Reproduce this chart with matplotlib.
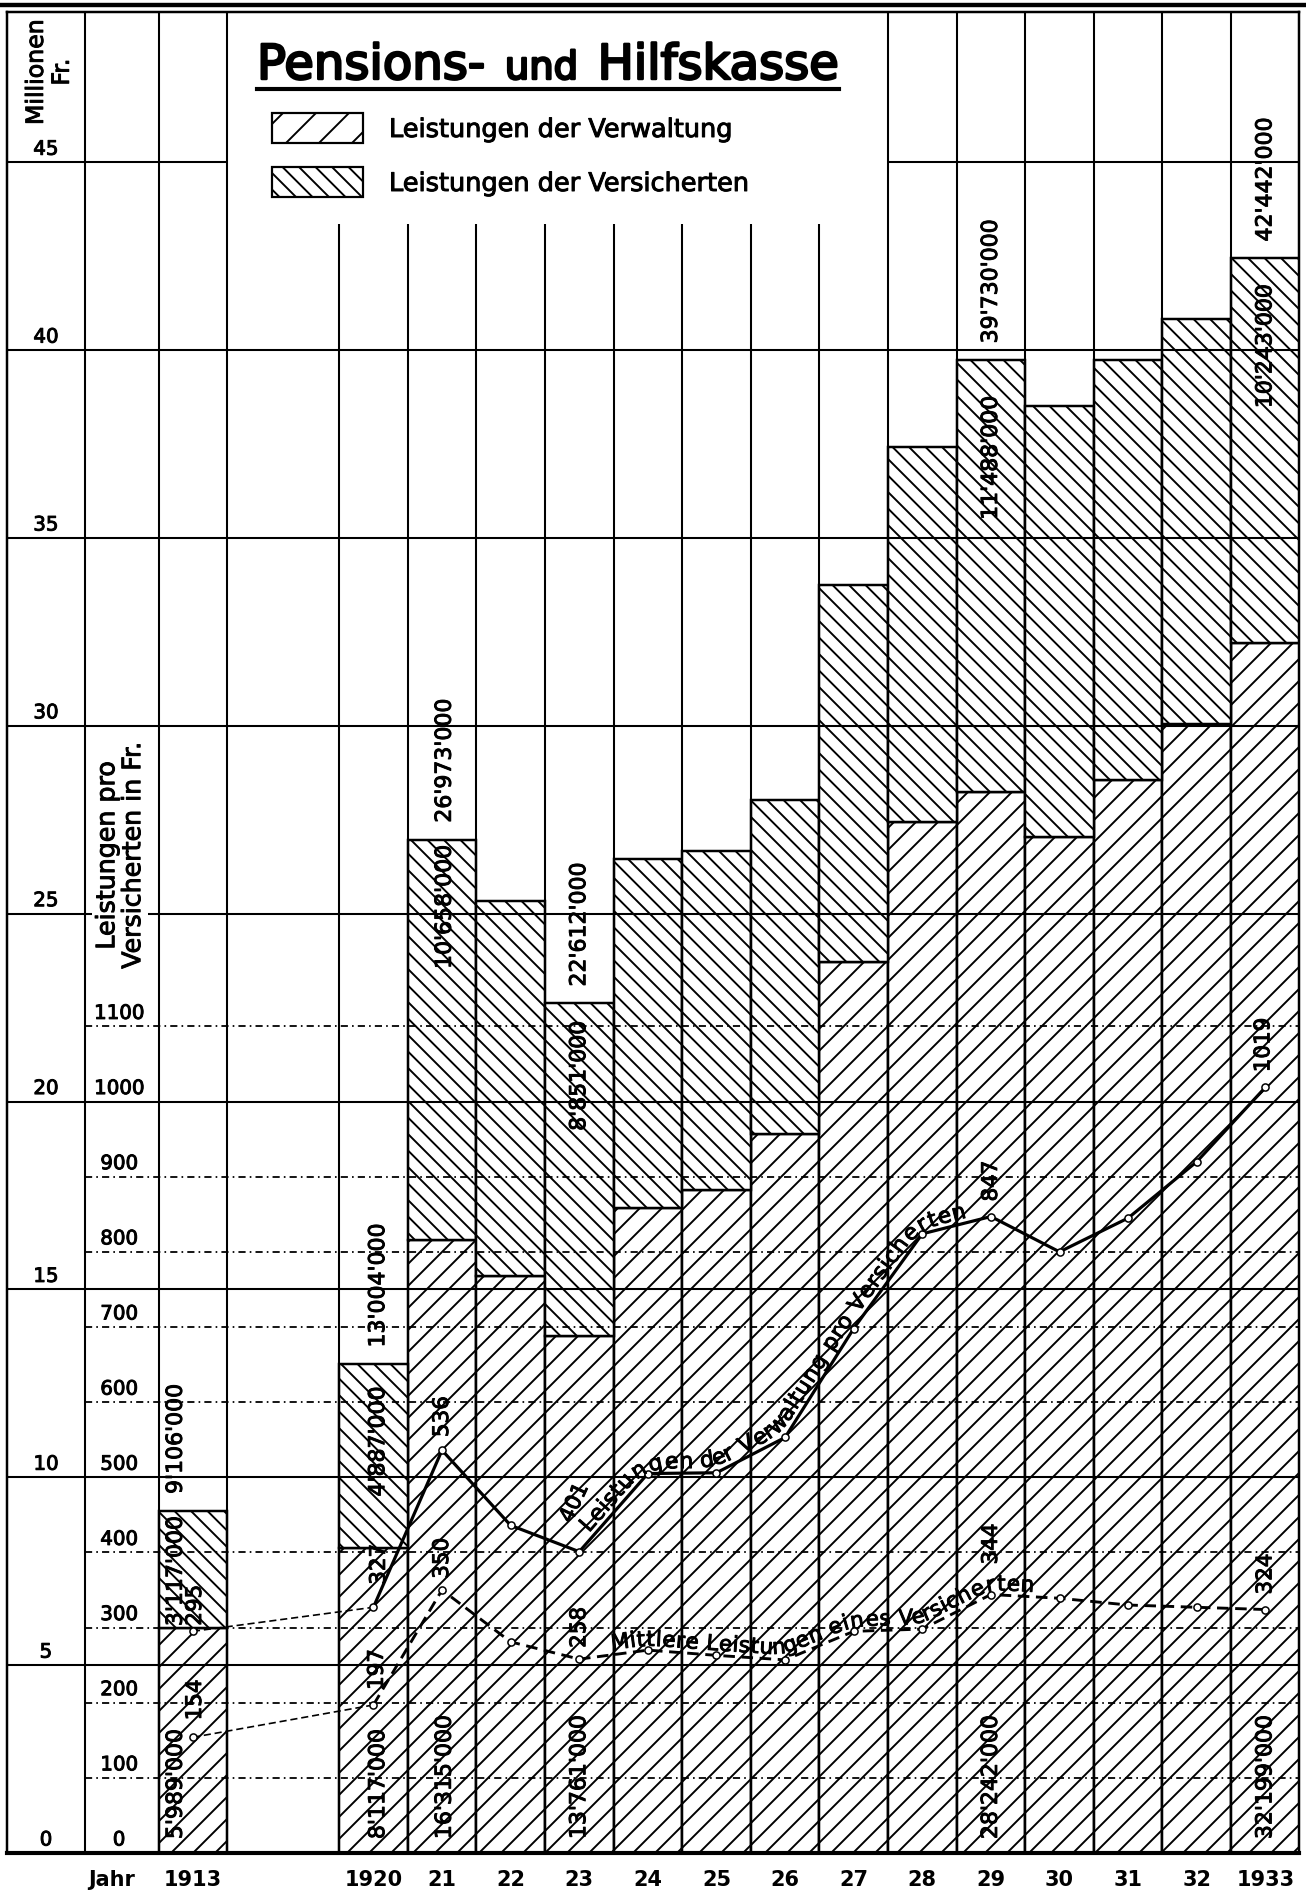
import numpy as np
import matplotlib
matplotlib.use("Agg")
import matplotlib.pyplot as plt
from matplotlib.patches import Rectangle
from matplotlib.font_manager import FontProperties
import matplotlib.patheffects as pe

plt.rcParams["font.family"] = ["DejaVu Sans"]
plt.rcParams["hatch.linewidth"] = 0.7
plt.rcParams["lines.scale_dashes"] = False

# ---------------- data ----------------
years = [1913, 1920, 1921, 1922, 1923, 1924, 1925, 1926, 1927, 1928, 1929, 1930, 1931, 1932, 1933]
year_labels = ["1913", "1920", "21", "22", "23", "24", "25", "26", "27", "28", "29", "30", "31", "32", "1933"]
# Millionen Fr.
verwaltung_mio = [5.989, 8.117, 16.315, 15.35, 13.761, 17.17, 17.65, 19.15, 23.72, 27.45, 28.242, 27.03, 28.55, 30.05, 32.199]
versicherte_mio = [3.117, 4.887, 10.658, 9.98, 8.851, 9.28, 9.03, 8.87, 10.04, 9.98, 11.488, 11.47, 11.18, 10.77, 10.243]
# Fr. pro Versicherten
verw_pro_versicherten = [295, 327, 536, 436, 401, 505, 506, 553, 698, 824, 847, 800, 845, 920, 1019]
mittlere_leistung = [154, 197, 350, 281, 258, 270, 263, 257, 295, 298, 344, 339, 330, 327, 324]
labelled_years = [1913, 1920, 1921, 1923, 1929, 1933]
mio_ticks = list(range(0, 50, 5))
fr_ticks = list(range(0, 1200, 100))
FR_PER_MIO = 50  # right scale: 1000 Fr. <-> 20 Mio. Fr.

title_parts = ["Pensions-", "und", "Hilfskasse"]
legend_labels = ["Leistungen der Verwaltung", "Leistungen der Versicherten"]
curve_labels = ["Leistungen der Verwaltung pro Versicherten", "Mittlere Leistungen eines Versicherten"]


def swiss(v_mio):
    return f"{int(round(v_mio * 1e6)):,}".replace(",", "'")


# ---------------- figure / layout ----------------
W, H, DPI = 1306, 1899, 198
fig = plt.figure(figsize=(W / DPI, H / DPI), dpi=DPI)
fig.patch.set_facecolor("white")

HEAVY = [pe.withStroke(linewidth=0.35, foreground="black")]

X0, X1, Y1 = -2.21, 16.62, 49.0
BOX_TOP = 43.35
ax = fig.add_axes([7 / W, (H - 1853) / H, (1299 - 7) / W, (1853 - 12) / H])
ax.set_xlim(X0, X1)
ax.set_ylim(0, Y1)
ax.set_xticks([])
ax.set_yticks([])
for s in ["left", "right", "top"]:
    ax.spines[s].set_linewidth(0.9)
ax.spines["bottom"].set_linewidth(1.5)


def col_left(y):
    return 0.0 if y == 1913 else 2.63 + (y - 1920)


left = np.array([col_left(y) for y in years])
cx = left + 0.5
verw = np.array(verwaltung_mio)
vers = np.array(versicherte_mio)
total = verw + vers

# bars
ax.bar(left, verw, width=1.0, align="edge", facecolor="white", edgecolor="black",
       linewidth=0.9, hatch="///", zorder=2)
ax.bar(left, vers, bottom=verw, width=1.0, align="edge", facecolor="white",
       edgecolor="black", linewidth=0.9, hatch="\\\\\\\\", zorder=2)

# grid
GRID = dict(colors="black", linewidth=0.75, zorder=3)
for m in mio_ticks[1:]:
    if m > BOX_TOP:
        ax.hlines(m, X0, 1.0, **GRID)
        ax.hlines(m, 10.63, X1, **GRID)
    else:
        ax.hlines(m, X0, X1, **GRID)
ax.vlines([-1.07, 0.0, 1.0], 0, Y1, **GRID)
for l in left[1:]:
    ax.vlines(l, 0, BOX_TOP if l < 10.6 else Y1, **GRID)
for f in fr_ticks[1:]:
    ax.hlines(f / FR_PER_MIO, -1.07, X1, colors="black", linewidth=0.65,
              linestyles=[(0, (2.6, 1.5, 0.6, 1.5))], zorder=3)

# axis labels
NUM = dict(ha="center", va="baseline", fontsize=7.2, zorder=8, path_effects=HEAVY)
for m in mio_ticks:
    ax.text(-1.643, m + 0.2, str(m), **NUM)
for f in fr_ticks:
    ax.text(-0.578, f / FR_PER_MIO + 0.2, str(f), **NUM)
ax.text(-1.6, 47.4, "Millionen\nFr.", rotation=90, ha="center", va="center",
        fontsize=8.6, linespacing=1.1, multialignment="center", zorder=8, path_effects=HEAVY)
ax.text(-0.56, 26.54, "Leistungen pro\nVersicherten in Fr.", rotation=90, ha="center",
        va="center", fontsize=9.2, linespacing=1.1, multialignment="center", zorder=8,
        bbox=dict(facecolor="white", edgecolor="none", pad=1.0), path_effects=HEAVY)
ax.text(-0.68, -0.72, "Jahr", ha="center", va="center", fontsize=7.6,
        fontweight="bold", clip_on=False)
for x, lab in zip(cx, year_labels):
    ax.text(x, -0.72, lab, ha="center", va="center", fontsize=7.6,
            fontweight="bold", clip_on=False)

# bar value labels
LBL = dict(rotation=90, ha="center", fontsize=8.0, zorder=8, path_effects=HEAVY)
xshift = {1913: -0.25, 1920: 0.07, 1921: 0.04}
vers_pos = {1913: ("bottom", 0.05), 1920: ("center", 0.0), 1921: ("top", -0.13),
            1923: ("top", -0.45), 1929: ("top", -0.93), 1933: ("top", -0.67)}
for i, y in enumerate(years):
    if y not in labelled_years:
        continue
    dx = xshift.get(y, 0.0)
    ax.text(cx[i] + dx, total[i] + 0.45, swiss(total[i]), va="bottom", **LBL)
    ax.text(cx[i] + dx, 0.37, swiss(verw[i]), va="bottom", **LBL)
    va, off = vers_pos[y]
    if va == "bottom":
        yy = verw[i] + off
    elif va == "top":
        yy = total[i] + off
    else:
        yy = verw[i] + vers[i] / 2 + 0.4
    ax.text(cx[i] + dx, yy, swiss(vers[i]), va=va, **LBL)

# curves
vp = np.array(verw_pro_versicherten) / FR_PER_MIO
ml = np.array(mittlere_leistung) / FR_PER_MIO
thin = dict(color="black", lw=0.6, ls=(0, (2.6, 1.4)), zorder=5)
ax.plot(cx[:2], vp[:2], **thin)
ax.plot(cx[:2], ml[:2], **thin)
ax.plot(cx[1:], vp[1:], color="black", lw=1.15, ls="-", zorder=5)
ax.plot(cx[1:], ml[1:], color="black", lw=1.05, ls=(0, (4.2, 2.4)), zorder=5)
MK = dict(ls="none", marker="o", ms=2.6, mfc="white", mec="black", mew=0.55, zorder=6)
ax.plot(cx, vp, **MK)
ax.plot(cx, ml, **MK)

# curve value labels
VL = dict(fontsize=7.8, zorder=8, path_effects=HEAVY)
vp_off = {1913: (0.03, 0.15), 1920: (0.08, 0.6), 1921: (0.0, 0.35), 1929: (0.0, 0.4), 1933: (-0.03, 0.4)}
ml_off = {1913: (0.03, 0.45), 1920: (0.05, 0.4), 1921: (0.0, 0.3), 1923: (0.0, 0.3), 1929: (0.0, 0.8), 1933: (0.0, 0.4)}
for i, y in enumerate(years):
    if y in vp_off:
        dx, dy = vp_off[y]
        ax.text(cx[i] + dx, vp[i] + dy, str(verw_pro_versicherten[i]), rotation=90,
                ha="center", va="bottom", **VL)
    if y in ml_off:
        dx, dy = ml_off[y]
        ax.text(cx[i] + dx, ml[i] + dy, str(mittlere_leistung[i]), rotation=90,
                ha="center", va="bottom", **VL)
i23 = years.index(1923)
ax.text(cx[i23] - 0.07, vp[i23] + 1.3, str(verw_pro_versicherten[i23]), rotation=65,
        ha="center", va="center", **VL)

# text following the curves
renderer = fig.canvas.get_renderer()


def text_along(xs, ys, text, start, offset, size, tracking, smooth):
    prop = FontProperties(family="DejaVu Sans", size=size)
    pts = ax.transData.transform(np.column_stack([xs, ys]))
    seg = np.diff(pts, axis=0)
    seglen = np.hypot(seg[:, 0], seg[:, 1])
    cum = np.concatenate([[0], np.cumsum(seglen)])

    def point_at(d):
        d = min(max(d, 0), cum[-1])
        i = int(np.clip(np.searchsorted(cum, d, side="right") - 1, 0, len(seglen) - 1))
        t = (d - cum[i]) / seglen[i]
        return pts[i] + seg[i] * t

    ref = renderer.get_text_width_height_descent("||", prop, ismath=False)[0]
    inv = ax.transData.inverted()
    s = start
    for ch in text:
        adv = (renderer.get_text_width_height_descent("|" + ch + "|", prop, ismath=False)[0] - ref) * tracking
        d = s + adv / 2
        a = point_at(d - smooth)
        b = point_at(d + smooth)
        ang = np.arctan2(b[1] - a[1], b[0] - a[0])
        p = 0.5 * point_at(d) + 0.25 * (a + b)
        q = p + np.array([-np.sin(ang), np.cos(ang)]) * offset
        xd, yd = inv.transform(q)
        if ch.strip():
            ax.text(xd, yd, ch, rotation=np.degrees(ang), rotation_mode="anchor",
                    ha="center", va="baseline", fontsize=size, zorder=8, path_effects=HEAVY)
        s += adv


i29 = years.index(1929)
text_along(cx[i23:i29 + 1], vp[i23:i29 + 1], curve_labels[0], 20, 5, 8.0, 1.07, 18)
text_along(cx[i23:i29 + 2], ml[i23:i29 + 2], curve_labels[1], 33, 5, 7.8, 1.05, 14)

# ---------------- overlay: title, legend, top rule ----------------
ov = fig.add_axes([0, 0, 1, 1], zorder=5)
ov.set_xlim(0, W)
ov.set_ylim(H, 0)
ov.axis("off")
ov.plot([0, W], [5, 5], color="black", lw=1.6)

TITLE_FX = [pe.withStroke(linewidth=0.9, foreground="black")]
t1 = ov.text(257, 79, title_parts[0], ha="left", va="baseline", fontsize=17.5, path_effects=TITLE_FX)
t3 = ov.text(839, 79, title_parts[2], ha="right", va="baseline", fontsize=17.5, path_effects=TITLE_FX)
e1 = t1.get_window_extent(renderer)
e3 = t3.get_window_extent(renderer)
ov.text((e1.x1 + e3.x0) / 2, 79, title_parts[1], ha="center", va="baseline", fontsize=14,
        path_effects=TITLE_FX)
ov.plot([257, 839], [89, 89], color="black", lw=1.5)

ov.add_patch(Rectangle((272, 113), 91, 30, facecolor="white", edgecolor="black",
                       lw=0.8, hatch="//"))
ov.add_patch(Rectangle((272, 167), 91, 30, facecolor="white", edgecolor="black",
                       lw=0.8, hatch="\\\\\\\\"))
ov.text(389, 137, legend_labels[0], ha="left", va="baseline", fontsize=9.3, path_effects=HEAVY)
ov.text(389, 191, legend_labels[1], ha="left", va="baseline", fontsize=9.3, path_effects=HEAVY)

fig.savefig("out.png", dpi=DPI, facecolor="white")
